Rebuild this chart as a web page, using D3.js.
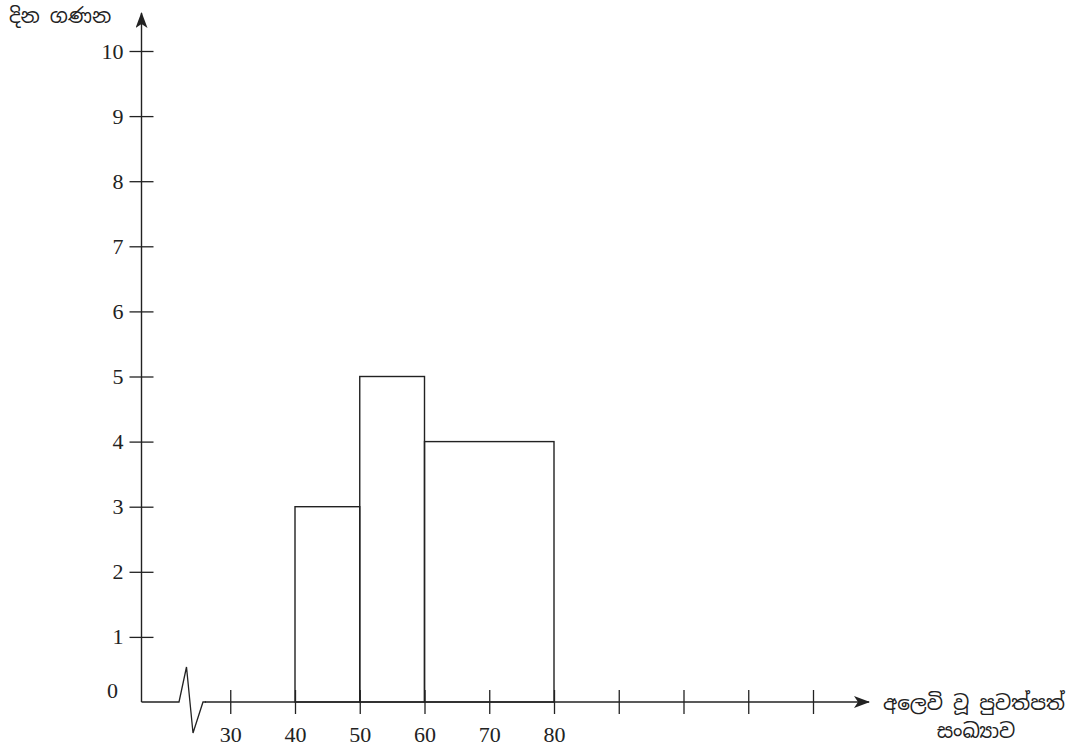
<!DOCTYPE html>
<html>
<head>
<meta charset="utf-8">
<script src="https://cdn.jsdelivr.net/npm/d3@7"></script>
<style>
  html, body { margin: 0; padding: 0; background: #fff; }
  svg { display: block; }
  .num { font-family: "Liberation Serif", "Times New Roman", serif; font-size: 22px; fill: #222; }
  .sin { font-family: "Noto Sans Sinhala", "Iskoola Pota", "Noto Serif Sinhala", "Liberation Serif", serif; font-size: 20px; fill: #222; }
</style>
</head>
<body>
<svg id="chart" width="1077" height="746"></svg>
<script>
// ---- data ----
const classLower = [40, 50, 60];
const classUpper = [50, 60, 80];
const frequency  = [3, 5, 4];
const yTicks = [1, 2, 3, 4, 5, 6, 7, 8, 9, 10];
const xTicks = [30, 40, 50, 60, 70, 80, 90, 100, 110, 120];
const xLabelled = [30, 40, 50, 60, 70, 80];
const yTitle = "දින ගණන";
const xTitleLine1 = "අලෙවි වූ පුවත්පත්";
const xTitleLine2 = "සංඛ්‍යාව";

const svg = d3.select("#chart");
const ink = "#222";

const x = d3.scaleLinear().domain([40, 80]).range([295, 554]);
const y = d3.scaleLinear().domain([0, 10]).range([702, 51]);
const axisX0 = 141.5;

// defs: arrowheads
const defs = svg.append("defs");
defs.append("marker").attr("id", "arr")
  .attr("viewBox", "0 0 16 12").attr("refX", 15).attr("refY", 6)
  .attr("markerWidth", 16).attr("markerHeight", 12)
  .attr("markerUnits", "userSpaceOnUse").attr("orient", "auto")
  .append("path").attr("d", "M0,0 L16,6 L0,12 L4,6 Z").attr("fill", ink);

// bars
svg.append("g").selectAll("rect")
  .data(frequency)
  .join("rect")
  .attr("x", (d, i) => x(classLower[i]))
  .attr("y", d => y(d))
  .attr("width", (d, i) => x(classUpper[i]) - x(classLower[i]))
  .attr("height", d => y(0) - y(d))
  .attr("fill", "none")
  .attr("stroke", ink)
  .attr("stroke-width", 1.4);

// y axis
const yAxis = svg.append("g")
  .attr("transform", `translate(${axisX0},0)`)
  .call(d3.axisLeft(y).tickValues(yTicks).tickSize(12).tickPadding(6).tickFormat(d3.format("d")));
yAxis.select(".domain").remove();
yAxis.selectAll(".tick line").attr("x1", -12).attr("x2", 12).attr("stroke", ink).attr("stroke-width", 1.3);
yAxis.selectAll(".tick text").attr("class", "num").attr("font-size", null).attr("font-family", null).attr("fill", ink);

// "0" label
svg.append("text").attr("class", "num")
  .attr("x", 118).attr("y", y(0) - 9)
  .attr("text-anchor", "end").attr("dominant-baseline", "middle")
  .text(0);

// y axis line with arrow
svg.append("line")
  .attr("x1", axisX0).attr("y1", y(0))
  .attr("x2", axisX0).attr("y2", 13)
  .attr("stroke", ink).attr("stroke-width", 1.4)
  .attr("marker-end", "url(#arr)");

// broken-axis zigzag
const zig = [[axisX0, y(0)], [179, y(0)], [186.5, y(0) - 35], [193, y(0) + 31], [203, y(0)], [206, y(0)]];
svg.append("path")
  .attr("d", d3.line()(zig))
  .attr("fill", "none").attr("stroke", ink).attr("stroke-width", 1.3)
  .attr("stroke-linejoin", "miter");

// x axis line with arrow
svg.append("line")
  .attr("x1", 205).attr("y1", y(0))
  .attr("x2", 869).attr("y2", y(0))
  .attr("stroke", ink).attr("stroke-width", 1.4)
  .attr("marker-end", "url(#arr)");

// x axis ticks
const xAxis = svg.append("g")
  .attr("transform", `translate(0,${y(0)})`)
  .call(d3.axisBottom(x).tickValues(xTicks).tickSize(12).tickPadding(12)
    .tickFormat(d => xLabelled.includes(d) ? d : ""));
xAxis.select(".domain").remove();
xAxis.selectAll(".tick line").attr("y1", -12).attr("y2", 12).attr("stroke", ink).attr("stroke-width", 1.3);
xAxis.selectAll(".tick text").attr("class", "num").attr("font-size", null).attr("font-family", null).attr("fill", ink);

// titles
svg.append("text").attr("class", "sin")
  .attr("x", 9).attr("y", 23).text(yTitle);
svg.append("text").attr("class", "sin")
  .attr("x", 883).attr("y", 710).text(xTitleLine1);
svg.append("text").attr("class", "sin")
  .attr("x", 976).attr("y", 738).attr("text-anchor", "middle").text(xTitleLine2);
</script>
</body>
</html>
